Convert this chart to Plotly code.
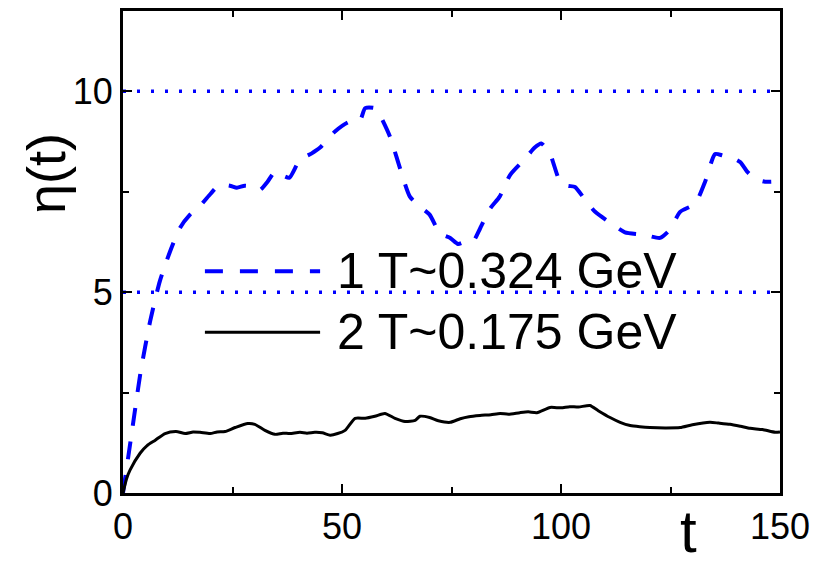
import plotly.graph_objects as go

# ---- data ----
t1 = [0, 2, 4, 6.2, 8.4, 10.7, 13, 15.3, 17.6, 20, 22, 24.4, 26, 27.8, 30, 31.3, 33, 34.7,
      36.5, 38, 40.4, 43, 45, 48.4, 51.4, 54.1, 55.3, 57.5, 58.7, 61, 63.2, 65.5, 67.8, 70,
      72.4, 74.7, 76.5, 78, 79.9, 81.5, 83.8, 86, 88.4, 91.8, 94, 95.5, 97.5, 99.8, 101.5,
      103.2, 105.5, 107.8, 111.2, 114.6, 118, 120, 122.6, 124.9, 127.2, 130.6, 132.9, 135.2,
      137, 138.6, 140.9, 142.5, 144.3, 146.6, 148]
eta1 = [0, 1.5, 3.0, 4.28, 5.27, 6.0, 6.6, 6.93, 7.15, 7.45, 7.67, 7.65, 7.6, 7.65, 7.62, 7.55,
        7.75, 8.0, 7.9, 7.85, 8.3, 8.45, 8.6, 9.0, 9.23, 9.28, 9.58, 9.58, 9.4, 8.86, 8.1, 7.38,
        7.13, 6.93, 6.46, 6.35, 6.2, 6.25, 6.26, 6.58, 7.08, 7.38, 7.92, 8.32, 8.6, 8.7, 8.44,
        7.75, 7.65, 7.62, 7.3, 7.0, 6.73, 6.49, 6.44, 6.4, 6.35, 6.56, 7.0, 7.2, 7.75, 8.44,
        8.4, 8.37, 8.24, 8.0, 7.82, 7.75, 7.75]

t2 = [0, 0.8, 1.6, 3.9, 5.5, 7.3, 9.6, 12.1, 14.2, 16, 17.6, 19.9, 21.5, 23.3, 25.6, 28.5,
      30.1, 32.4, 34.7, 36.5, 38.1, 40.4, 42, 43.8, 45.5, 47.3, 49, 50.7, 53, 55.3, 57.5,
      59.8, 62.1, 64.4, 66.7, 67.8, 70, 72, 74.7, 77, 79, 81.5, 84, 86.1, 88, 90.6, 92.5,
      94.5, 97.5, 100, 102, 104, 106.6, 108.5, 111.2, 113.5, 115.8, 118, 120.3, 124, 127.2,
      130, 134, 136, 138.6, 141, 143.2, 146, 148.9, 150]
eta2 = [0, 0.35, 0.57, 0.99, 1.18, 1.31, 1.48, 1.53, 1.48, 1.52, 1.51, 1.48, 1.52, 1.53,
        1.63, 1.73, 1.71, 1.56, 1.46, 1.49, 1.48, 1.51, 1.49, 1.51, 1.5, 1.44, 1.48, 1.56,
        1.86, 1.86, 1.91, 1.98, 1.86, 1.78, 1.81, 1.91, 1.88, 1.8, 1.76, 1.85, 1.9, 1.93,
        1.95, 1.98, 1.96, 2.0, 2.02, 2.0, 2.13, 2.12, 2.15, 2.14, 2.18, 2.05, 1.88, 1.76,
        1.68, 1.65, 1.63, 1.62, 1.63, 1.7, 1.76, 1.74, 1.71, 1.66, 1.61, 1.58, 1.51, 1.52]

series_names = ["1 T~0.324 GeV", "2 T~0.175 GeV"]
ref_levels = [5, 10]
x_range = [0, 150]
x_ticks = [0, 50, 100, 150]
y_ticks = [0, 5, 10]

FONT = "Liberation Sans, Arial, sans-serif"
BLUE = "#0000ff"

L, R, T, B = 123, 45, 8, 77
W, H = 825, 570
pw, ph = W - L - R, H - T - B


def px_to_paper(px, py):
    return (px - L) / pw, (H - B - py) / ph


fig = go.Figure()

# dotted reference lines
for lv in ref_levels:
    fig.add_trace(go.Scatter(x=x_range, y=[lv, lv], mode="lines", hoverinfo="skip",
                             line=dict(color=BLUE, width=3.5, dash="3px,11px")))

fig.add_trace(go.Scatter(x=t1, y=eta1, mode="lines", name=series_names[0],
                         line=dict(color=BLUE, width=4, dash="18px,16px", shape="spline",
                                   smoothing=0.6)))
fig.add_trace(go.Scatter(x=t2, y=eta2, mode="lines", name=series_names[1],
                         line=dict(color="black", width=3, shape="spline", smoothing=0.6)))

# manual legend (long sample lines like the original)
leg_y = [5.52, 4.0]
leg_styles = [dict(color=BLUE, width=4, dash="18px,17px"), dict(color="black", width=3)]
for name, ly, st in zip(series_names, leg_y, leg_styles):
    fig.add_shape(type="line", xref="x", yref="y", x0=18.7, x1=45, y0=ly, y1=ly, line=st)
    fig.add_annotation(x=48.3, y=ly, xref="x", yref="y", text=name, showarrow=False,
                       xanchor="left", yanchor="middle",
                       font=dict(family=FONT, size=50, color="black"))

# axis titles
ax, ay = px_to_paper(688, 532)
fig.add_annotation(x=ax, y=ay, xref="paper", yref="paper", text="t", showarrow=False,
                   xanchor="center", yanchor="middle",
                   font=dict(family=FONT, size=60, color="black"))
ex, ey = px_to_paper(46, 172)
fig.add_annotation(x=ex, y=ey, xref="paper", yref="paper", text="η(t)", showarrow=False,
                   xanchor="center", yanchor="middle", textangle=-90,
                   font=dict(family=FONT, size=54, color="black"))

axis_common = dict(showline=True, linewidth=3, linecolor="black", mirror="allticks",
                   ticks="inside", ticklen=9, tickwidth=2, tickcolor="black",
                   showgrid=False, zeroline=False,
                   tickfont=dict(family=FONT, size=36, color="black"))
fig.update_xaxes(range=x_range, tickvals=x_ticks,
                 minor=dict(ticks="inside", dtick=25, tick0=0, ticklen=6, tickwidth=2,
                            tickcolor="black", showgrid=False),
                 **axis_common)
fig.update_yaxes(range=[0, 12], tickvals=y_ticks,
                 minor=dict(ticks="inside", dtick=2.5, tick0=0, ticklen=6, tickwidth=2,
                            tickcolor="black", showgrid=False),
                 **axis_common)

fig.update_layout(width=W, height=H, margin=dict(l=L, r=R, t=T, b=B),
                  plot_bgcolor="white", paper_bgcolor="white", showlegend=False,
                  font=dict(family=FONT))

fig.write_html("out.html")
